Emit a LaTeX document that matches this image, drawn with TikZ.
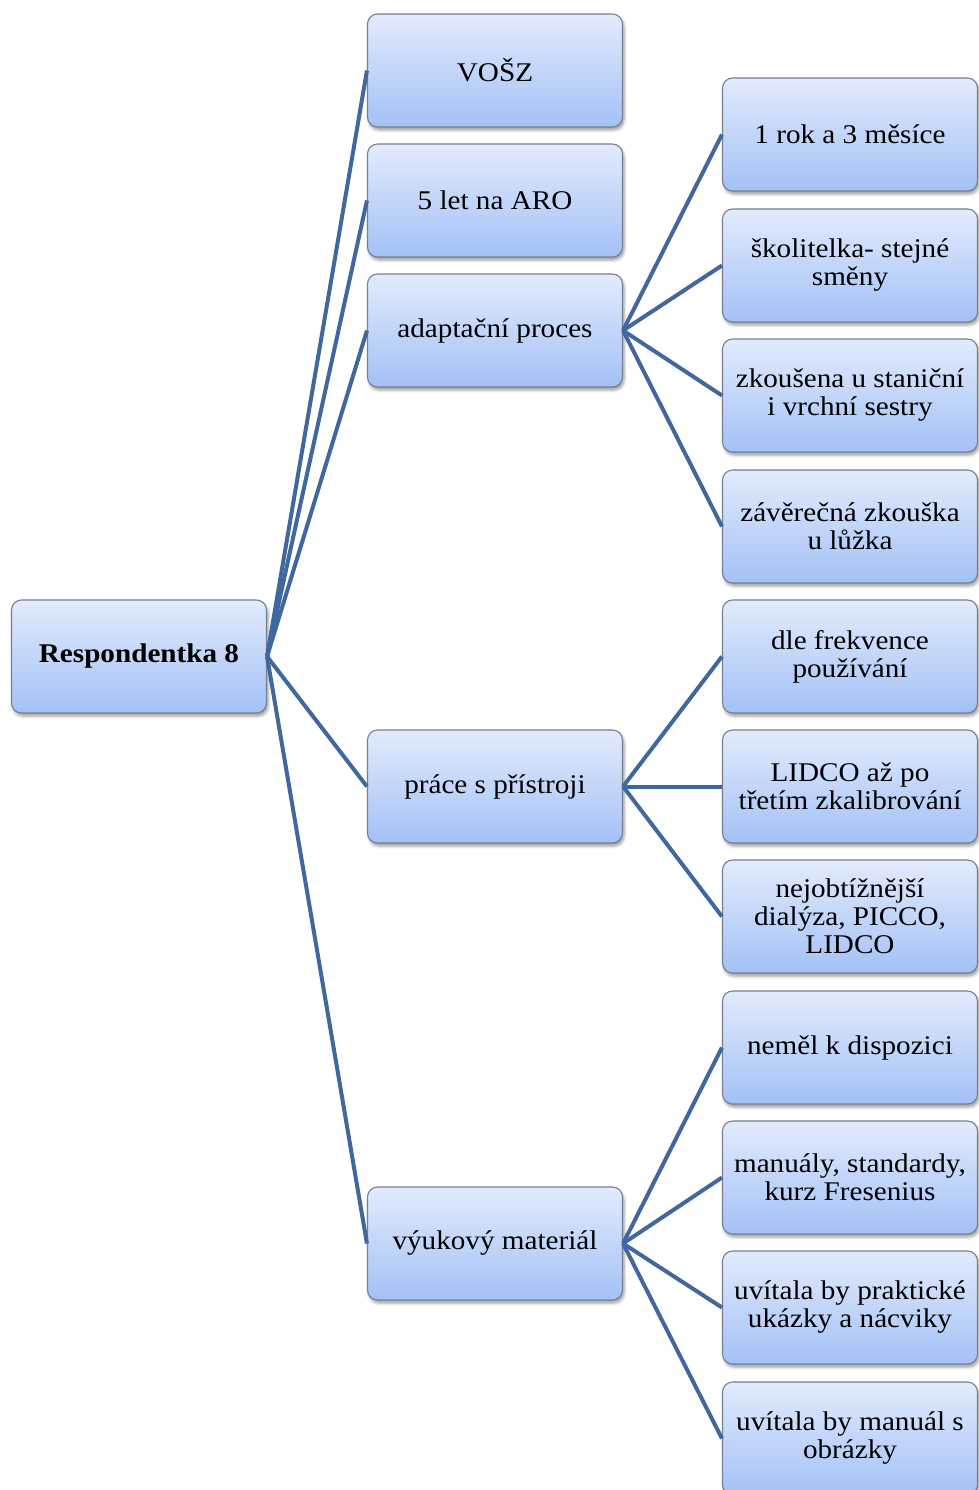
\documentclass[tikz,border=0pt]{standalone}
\usepackage{fontspec}
\setmainfont{Liberation Serif}[FakeStretch=1.08]
\usetikzlibrary{shadows.blur}
\definecolor{boxtop}{RGB}{226,235,253}
\definecolor{boxbot}{RGB}{163,193,246}
\definecolor{boxline}{RGB}{118,128,146}
\definecolor{linkblue}{RGB}{65,104,158}
\tikzset{
  card/.style={rectangle, rounded corners=10pt, draw=boxline, line width=1.1pt,
    top color=boxtop, bottom color=boxbot,
    minimum width=255pt, minimum height=113pt, inner sep=2pt,
    align=center, font=\fontsize{27}{28}\selectfont,
    blur shadow={shadow xshift=1.5pt, shadow yshift=-3pt, shadow blur radius=3pt, shadow opacity=40}},
  rootcard/.style={card, font=\fontsize{27}{28}\selectfont\bfseries},
  link/.style={draw=linkblue, line width=4pt}
}
\begin{document}
\begin{tikzpicture}[x=1pt, y=-1pt]
\useasboundingbox (0,0) rectangle (978,1490);
% root
\node[rootcard] (r) at (139,656.5) {Respondentka 8};
% first level
\node[card] (a1) at (495,70.5) {VOŠZ};
\node[card] (a2) at (495,200.5) {5 let na ARO};
\node[card] (a3) at (495,330.5) {adaptační proces};
\node[card] (a4) at (495,786.5) {práce s přístroji};
\node[card] (a5) at (495,1243.5) {výukový materiál};
% second level
\node[card] (b1) at (850,134.5) {1 rok a 3 měsíce};
\node[card] (b2) at (850,265.5) {školitelka- stejné\\směny};
\node[card] (b3) at (850,395.5) {zkoušena u staniční\\i vrchní sestry};
\node[card] (b4) at (850,526.5) {závěrečná zkouška\\u lůžka};
\node[card] (b5) at (850,656.5) {dle frekvence\\používání};
\node[card] (b6) at (850,786.5) {LIDCO až po\\třetím zkalibrování};
\node[card] (b7) at (850,916.5) {nejobtížnější\\dialýza, PICCO,\\LIDCO};
\node[card] (b8) at (850,1047.5) {neměl k dispozici};
\node[card] (b9) at (850,1177.5) {manuály, standardy,\\kurz Fresenius};
\node[card] (b10) at (850,1307.5) {uvítala by praktické\\ukázky a nácviky};
\node[card] (b11) at (850,1438.5) {uvítala by manuál s\\obrázky};
% connectors from each parent's right side to each child's left side
\foreach \t in {a1,a2,a3,a4,a5}{\draw[link] (r.east) -- (\t.west);}
\foreach \t in {b1,b2,b3,b4}{\draw[link] (a3.east) -- (\t.west);}
\foreach \t in {b5,b6,b7}{\draw[link] (a4.east) -- (\t.west);}
\foreach \t in {b8,b9,b10,b11}{\draw[link] (a5.east) -- (\t.west);}
\end{tikzpicture}
\end{document}
